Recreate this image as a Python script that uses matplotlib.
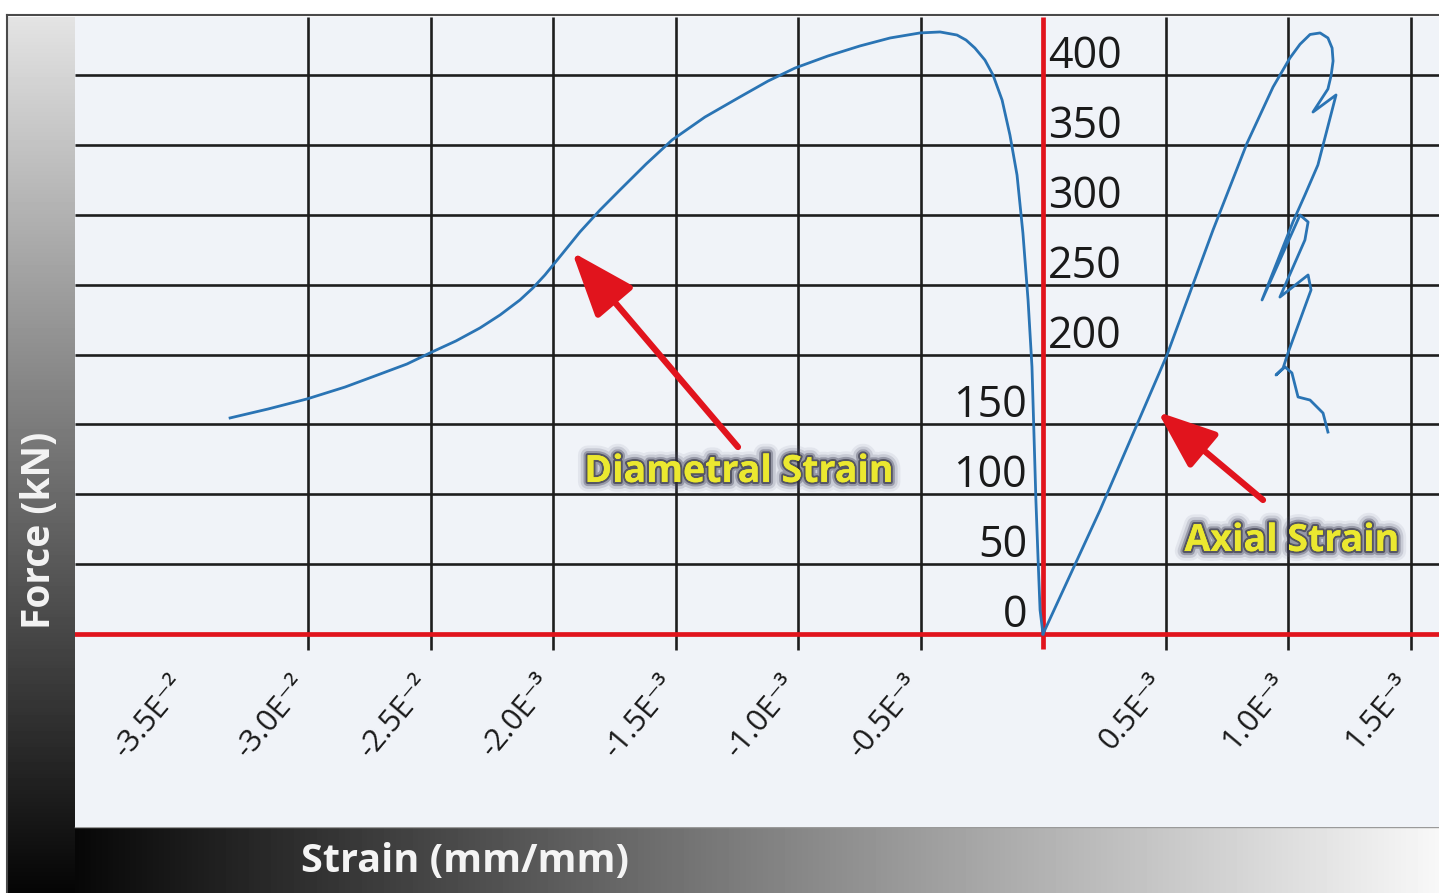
import matplotlib
matplotlib.use("Agg")
import matplotlib.pyplot as plt
import numpy as np
from matplotlib import patheffects as pe

plt.rcParams["font.family"] = ["Open Sans", "DejaVu Sans"]

# ---------------- data (strain in 1e-3 mm/mm, force in kN) ----------------
x_ticks = [-3.5, -3.0, -2.5, -2.0, -1.5, -1.0, -0.5, 0.5, 1.0, 1.5]
x_tick_labels = ["-3.5E\u207b\u00b2", "-3.0E\u207b\u00b2", "-2.5E\u207b\u00b2",
                 "-2.0E\u207b\u00b3", "-1.5E\u207b\u00b3", "-1.0E\u207b\u00b3",
                 "-0.5E\u207b\u00b3", "0.5E\u207b\u00b3", "1.0E\u207b\u00b3",
                 "1.5E\u207b\u00b3"]
x_grid = [-3.0, -2.5, -2.0, -1.5, -1.0, -0.5, 0.5, 1.0, 1.5]
y_ticks = [0, 50, 100, 150, 200, 250, 300, 350, 400]
y_grid = [50, 100, 150, 200, 250, 300, 350, 400]

diam_strain = [-3.318, -3.163, -3.004, -2.849, -2.706, -2.596, -2.494, -2.396,
               -2.298, -2.216, -2.135, -2.082, -2.033, -1.963, -1.890, -1.808,
               -1.727, -1.620, -1.514, -1.380, -1.237, -1.122, -1.012, -0.878,
               -0.747, -0.624, -0.502, -0.420, -0.351, -0.314, -0.278, -0.237,
               -0.204, -0.167, -0.135, -0.106, -0.082, -0.061, -0.045, -0.037,
               -0.029, -0.020, -0.012, 0.0]
diam_force = [154.6, 161.0, 168.2, 176.7, 186.0, 193.2, 201.8, 209.7,
              219.0, 228.3, 239.0, 247.6, 256.9, 271.9, 287.7, 303.4,
              317.7, 336.3, 353.5, 369.9, 384.3, 395.7, 405.0, 413.6,
              420.8, 426.5, 430.1, 430.8, 428.6, 425.0, 419.3, 410.7,
              400.0, 382.1, 357.1, 328.4, 286.9, 239.0, 191.1, 143.8,
              95.9, 53.0, 17.2, 0.0]

axial_strain = [0.0, 0.233, 0.506, 0.694, 0.833, 0.939, 1.008, 1.049, 1.090,
                1.131, 1.163, 1.180, 1.184, 1.176, 1.163, 1.102, 1.196, 1.159,
                1.122, 1.069, 1.020, 0.894, 1.049, 1.082, 1.069, 0.967, 1.082,
                1.094, 1.000, 0.980, 0.951, 0.988, 1.016, 1.041, 1.090, 1.143,
                1.163]
axial_force = [0.0, 88.7, 199.6, 289.1, 351.3, 391.4, 412.2, 422.0, 429.0,
               430.1, 426.5, 419.3, 410.0, 399.7, 390.0, 373.5, 385.7, 360.6,
               335.6, 314.1, 294.8, 239.0, 299.8, 294.8, 281.9, 241.1, 256.9,
               246.2, 201.1, 190.3, 185.3, 191.1, 186.8, 169.6, 167.4, 158.1,
               144.5]

# ---------------- figure ----------------
W, H = 1439, 893
fig = plt.figure(figsize=(W / 100, H / 100), dpi=100)
fig.patch.set_facecolor("white")

bg = fig.add_axes([0, 0, 1, 1])
bg.set_xlim(0, W)
bg.set_ylim(H, 0)
bg.axis("off")

vgrad = np.linspace(0.89, 0.02, 256)[:, None]
bg.imshow(vgrad, extent=(8, 75, H, 17), cmap="gray", vmin=0, vmax=1,
          aspect="auto", interpolation="bilinear")
hgrad = np.linspace(0.03, 0.97, 256)[None, :]
bg.imshow(hgrad, extent=(75, W, H, 827), cmap="gray", vmin=0, vmax=1,
          aspect="auto", interpolation="bilinear")
bg.plot([7, 7], [15, H], color="#4a4a4a", lw=1.5)
bg.plot([7, W], [15, 15], color="#4a4a4a", lw=1.5)
bg.plot([75, W], [827, 827], color="#9a9a9a", lw=1.0)

bg.text(40, 530, "Force (kN)", rotation=90, ha="center", va="center",
        color="#f4f4f4", fontsize=28, fontweight="bold")
bg.text(465, 861, "Strain (mm/mm)", ha="center", va="center",
        color="#f4f4f4", fontsize=28.5, fontweight="bold")

# main plotting axes
ax = fig.add_axes([75 / W, (H - 827) / H, (W - 75) / W, (827 - 17) / H])
ax.set_facecolor("#f0f3f8")
px_per_x = 245.0
px_per_y = 1.3975
ax.set_xlim((75 - 1043) / px_per_x, (W - 1043) / px_per_x)
ax.set_ylim((634 - 827) / px_per_y, (634 - 17) / px_per_y)
for s in ax.spines.values():
    s.set_visible(False)
ax.set_xticks([])
ax.set_yticks([])

grid_c = "#1e1e1e"
ax.hlines(y_grid, ax.get_xlim()[0], ax.get_xlim()[1], color=grid_c, lw=1.9, zorder=1)
ax.vlines(x_grid, -11.5, ax.get_ylim()[1], color=grid_c, lw=1.9, zorder=1)

red = "#e1141d"
ax.axhline(0, color=red, lw=3.4, zorder=2)
ax.vlines([0], -10.5, ax.get_ylim()[1], color=red, lw=3.4, zorder=2)

blue = "#2a74b4"
ax.plot(diam_strain, diam_force, color=blue, lw=2.0, zorder=3,
        solid_joinstyle="round")
ax.plot(axial_strain, axial_force, color=blue, lw=2.0, zorder=3,
        solid_joinstyle="round")

# y tick labels
for v in y_ticks:
    if v <= 150:
        ax.text(-0.065, v + 5, str(v), ha="right", va="baseline",
                fontsize=31, color="#1a1a1a", zorder=4)
    else:
        ax.text(0.02, v + 5, str(v), ha="left", va="baseline",
                fontsize=31, color="#1a1a1a", zorder=4)

# x tick labels
for v, lab in zip(x_ticks, x_tick_labels):
    ax.text(v + 0.03, -25.8, lab, rotation=50, ha="right", va="top",
            fontsize=22, color="#1a1a1a", zorder=4)

# annotations
glow = [pe.withStroke(linewidth=14, foreground="#6a6a8c", alpha=0.10),
        pe.withStroke(linewidth=10, foreground="#55556e", alpha=0.18),
        pe.withStroke(linewidth=6, foreground="#3a3a50", alpha=0.35),
        pe.withStroke(linewidth=3, foreground="#2a2a38", alpha=0.6),
        pe.Normal()]
ax.annotate("", xy=(-1.922, 273.3), xytext=(-1.245, 133.8),
            arrowprops=dict(arrowstyle="-|>,head_length=40,head_width=15",
                            mutation_scale=1, lw=4.5, color=red,
                            shrinkA=0, shrinkB=0), zorder=5)
ax.annotate("", xy=(0.469, 158.9), xytext=(0.898, 95.9),
            arrowprops=dict(arrowstyle="-|>,head_length=36,head_width=14",
                            mutation_scale=1, lw=4.5, color=red,
                            shrinkA=0, shrinkB=0), zorder=5)
ax.text(-1.241, 108.8, "Diametral Strain", ha="center", va="baseline",
        fontsize=27, fontweight="bold", color="#ebe830",
        path_effects=glow, zorder=6)
ax.text(1.016, 59.4, "Axial Strain", ha="center", va="baseline",
        fontsize=27, fontweight="bold", color="#ebe830",
        path_effects=glow, zorder=6)

fig.savefig("out.png", dpi=100)
